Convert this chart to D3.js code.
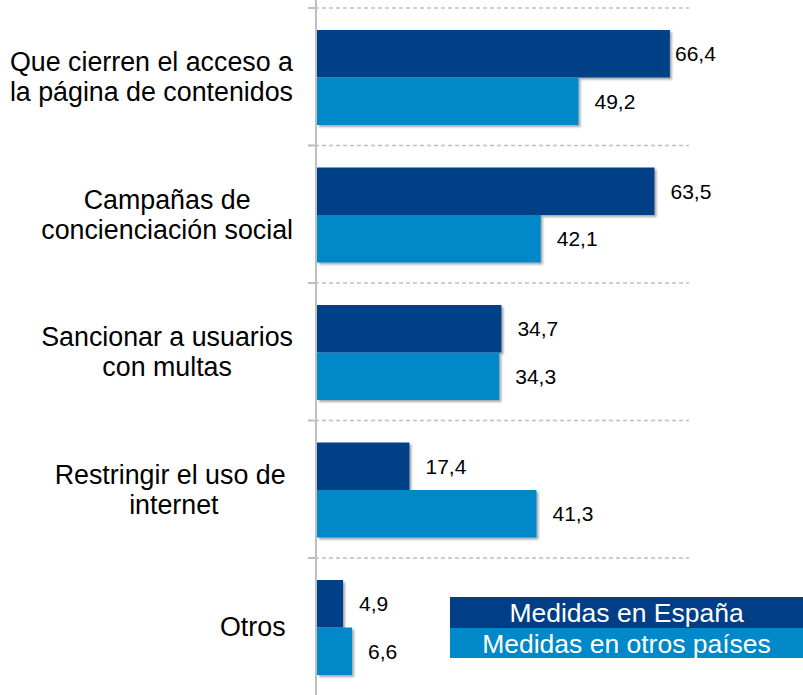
<!DOCTYPE html>
<html><head><meta charset="utf-8">
<script src="https://cdn.jsdelivr.net/npm/d3@7"></script>
<style>
html,body{margin:0;padding:0;background:#fff;}
svg{display:block;font-family:"Liberation Sans",Arial,sans-serif;}
text{white-space:pre;}
</style></head>
<body>
<svg id="chart" width="803" height="695"></svg>
<script>
const categories = [
  ["Que cierren el acceso a", "la página de contenidos"],
  ["Campañas de", "concienciación social"],
  ["Sancionar a usuarios", "con multas"],
  ["Restringir el uso de ", "internet"],
  ["Otros "]
];
const seriesNames = ["Medidas en España", "Medidas en otros países"];
const spainValues = [66.4, 63.5, 34.7, 17.4, 4.9];
const otherValues = [49.2, 42.1, 34.3, 41.3, 6.6];
const valueLabels = [
  ["66,4", "63,5", "34,7", "17,4", "4,9"],
  ["49,2", "42,1", "34,3", "41,3", "6,6"]
];
const colors = ["#003F87", "#0088C8"];

const svg = d3.select("#chart");
const W = 803, H = 695;
const catIdx = categories.map((d, i) => i);

const x = d3.scaleLinear().domain([0, 70]).range([317, 689]);
const y = d3.scaleBand().domain(catIdx).range([8, 695.5]).padding(0);
const ys = d3.scaleBand().domain([0, 1]).range([22, 117]).padding(0);

const defs = svg.append("defs");
const f = defs.append("filter").attr("id", "sh").attr("x", "-5%").attr("y", "-5%").attr("width", "115%").attr("height", "120%");
f.append("feGaussianBlur").attr("in", "SourceAlpha").attr("stdDeviation", 1.2);
f.append("feOffset").attr("dx", 2).attr("dy", 1.5).attr("result", "ob");
f.append("feComponentTransfer").append("feFuncA").attr("type", "linear").attr("slope", 0.35);
const m = f.append("feMerge");
m.append("feMergeNode");
m.append("feMergeNode").attr("in", "SourceGraphic");

// gridlines (category separators)
const gridY = catIdx.map(i => y(i));
svg.append("g").selectAll("line").data(gridY).join("line")
  .attr("x1", 308).attr("x2", x(70))
  .attr("y1", d => d).attr("y2", d => d)
  .attr("stroke", "#c0c0c0").attr("stroke-width", 1.5)
  .attr("stroke-dasharray", "4,3");

// bars
const series = [spainValues, otherValues];
series.forEach((vals, s) => {
  svg.append("g").selectAll("rect").data(vals).join("rect")
    .attr("x", x(0))
    .attr("y", (d, i) => y(i) + ys(s))
    .attr("width", d => x(d) - x(0))
    .attr("height", ys.bandwidth())
    .attr("fill", colors[s])
    .attr("filter", "url(#sh)");
});

// axis line
svg.append("line").attr("x1", 316).attr("x2", 316).attr("y1", 0).attr("y2", H)
  .attr("stroke", "#bfbfbf").attr("stroke-width", 2);
svg.append("g").selectAll("line").data(gridY).join("line")
  .attr("x1", 308).attr("x2", 316).attr("y1", d => d).attr("y2", d => d)
  .attr("stroke", "#bfbfbf").attr("stroke-width", 2);

// value labels
series.forEach((vals, s) => {
  svg.append("g").selectAll("text").data(vals).join("text")
    .attr("x", d => Math.min(x(d) + 16, 675))
    .attr("y", (d, i) => y(i) + ys(s) + ys.bandwidth() / 2)
    .attr("dy", "0.36em")
    .attr("font-size", 21)
    .attr("fill", "#000")
    .text((d, i) => valueLabels[s][i]);
});

// category labels
const lh = 30;
categories.forEach((lines, i) => {
  const g = svg.append("g");
  const cy = y(i) + y.bandwidth() / 2;
  const t = g.append("text").attr("font-size", 26.8).attr("fill", "#000").attr("text-anchor", "middle");
  const tsp = lines.map((ln, k) => t.append("tspan")
    .attr("y", cy + (k - (lines.length - 1) / 2) * lh)
    .attr("dy", "0.36em").text(ln));
  const wmax = d3.max(tsp, ts => ts.node().getComputedTextLength());
  tsp.forEach(ts => ts.attr("x", 293 - wmax / 2));
});

// legend
const lgX = 450, lgW = W - 450, lgY = [597, 628], lgH = [31, 30];
seriesNames.forEach((n, s) => {
  svg.append("rect").attr("x", lgX).attr("y", lgY[s]).attr("width", lgW).attr("height", lgH[s]).attr("fill", colors[s]);
  svg.append("text").attr("x", lgX + lgW / 2).attr("y", lgY[s] + lgH[s] / 2).attr("dy", "0.36em")
    .attr("text-anchor", "middle").attr("font-size", 26.5).attr("fill", "#fff").text(n);
});
</script>
</body></html>
